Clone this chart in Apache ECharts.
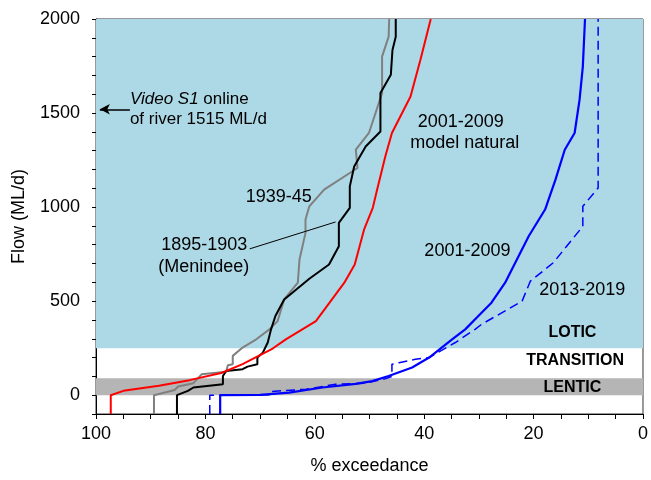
<!DOCTYPE html>
<html><head><meta charset="utf-8">
<script src="https://cdn.jsdelivr.net/npm/echarts@6/dist/echarts.min.js"></script>
<style>html,body{margin:0;padding:0;background:#fff}#c{width:651px;height:480px}</style>
</head><body><div id="c"></div>
<script>
// tick labels
const xTickLabels = [100, 80, 60, 40, 20, 0];
const yTickLabels = [0, 500, 1000, 1500, 2000];
// flow regime bands (ML/d)
const lenticBand = [0, 90];
const loticBand = [250, 2000];
// flow duration curves: [% exceedance, flow ML/d]
const natural2001 = [[97.3,-100],[97.3,0],[95.0,23],[88.5,50],[82.9,80],[77.1,118],[73.2,165],[67.7,248],[65.3,297],[59.8,394],[54.6,598],[52.7,695],[51.0,880],[49.4,996],[48.6,1093],[47.1,1270],[45.9,1394],[42.5,1588],[40.7,1782],[38.8,2000]];
const menindee1895 = [[85.2,-100],[85.2,0],[83.2,23],[82.2,41],[76.8,58],[76.8,102],[76.2,129],[73.2,138],[72.3,152],[70.5,164],[70.5,200],[69.5,226],[68.6,280],[68.0,350],[67.2,421],[65.6,509],[61.0,619],[57.4,695],[55.6,792],[55.6,916],[53.6,996],[53.6,1110],[52.8,1216],[50.7,1322],[48.0,1402],[48.0,1606],[46.1,1703],[45.8,1835],[45.2,1906],[45.2,2000]];
const period1939 = [[89.4,-100],[89.4,0],[85.6,28],[85.0,46],[82.2,64],[80.7,111],[76.2,124],[75.9,159],[75.0,164],[75.0,209],[73.2,253],[70.7,297],[68.3,350],[66.8,394],[65.6,509],[63.1,598],[62.8,721],[61.7,863],[61.7,934],[61.0,1004],[58.3,1093],[58.0,1102],[52.2,1208],[52.5,1305],[50.1,1394],[47.7,1606],[47.7,1800],[46.5,1906],[46.4,2000]];
const actual2001 = [[77.3,-100],[77.3,0],[70.0,2],[64.7,14],[58.6,41],[52.5,60],[49.5,75],[46.5,102],[42.2,147],[39.1,200],[34.9,297],[32.5,350],[30.1,421],[27.7,492],[25.2,598],[20.9,845],[17.9,987],[16.0,1146],[14.3,1305],[12.5,1394],[11.6,1570],[11.0,1747],[10.6,2000]];
const actual2013 = [[79.2,-100],[79.2,0],[68.0,2],[67.9,20],[61.6,32],[56.2,58],[50.7,64],[47.0,88],[45.9,100],[45.9,164],[44.6,173],[41.6,191],[39.1,200],[34.3,280],[30.7,350],[29.5,377],[22.1,500],[20.6,606],[16.4,704],[11.0,898],[11.0,1004],[8.2,1102],[8.2,2000]];
// annotation anchors [x, y] in data units
const videoArrow = [[93.8,1520],[99.3,1520]];
const leader1895 = [[71.9,778],[56.2,921]];
const FONT = 'Liberation Sans, Arial, sans-serif';
const texts = [
  {pos:[93.8,1571], text:'{i|Video S1} online', align:'left', size:17},
  {pos:[93.8,1466], text:'of river 1515 ML/d', align:'left', size:17},
  {pos:[33.3,1454], text:'2001-2009', align:'center', size:18},
  {pos:[32.6,1338], text:'model natural', align:'center', size:18},
  {pos:[66.6,1056], text:'1939-45', align:'center', size:18},
  {pos:[80.2,796], text:'1895-1903', align:'center', size:18},
  {pos:[80.3,684], text:'(Menindee)', align:'center', size:18},
  {pos:[32.1,769], text:'2001-2009', align:'center', size:18},
  {pos:[11.1,561], text:'2013-2019', align:'center', size:18},
  {pos:[12.9,333], text:'LOTIC', align:'center', size:16, bold:true},
  {pos:[12.4,184], text:'TRANSITION', align:'center', size:16, bold:true},
  {pos:[12.9,41], text:'LENTIC', align:'center', size:16, bold:true}
];

const chart = echarts.init(document.getElementById('c'), null, {renderer:'canvas'});
function line(data, color, width, type, z) {
  return {type:'line', data:data, showSymbol:false, symbol:'none', animation:false, silent:true, z:z||2,
    lineStyle:{color:color, width:width, type:type||'solid'}};
}
const option = {
  animation:false,
  grid:{left:96, right:6, top:19, bottom:65, show:true, borderColor:'#333', borderWidth:1},
  xAxis:{type:'value', inverse:true, min:0, max:100, interval:5,
    axisLine:{show:true, onZero:false, lineStyle:{color:'#000', width:1}},
    axisTick:{show:true, length:5, lineStyle:{color:'#000'}},
    axisLabel:{formatter:v => xTickLabels.includes(v) ? String(v) : '', fontSize:18, color:'#000', margin:11, fontFamily:FONT},
    splitLine:{show:false},
    name:'% exceedance', nameLocation:'middle', nameGap:43,
    nameTextStyle:{fontSize:18, color:'#000', fontFamily:FONT}},
  yAxis:{type:'value', min:-100, max:2000, interval:100,
    axisLine:{show:true, onZero:false, lineStyle:{color:'#000', width:1}},
    axisTick:{show:true, length:4, lineStyle:{color:'#000'}},
    axisLabel:{formatter:v => yTickLabels.includes(v) ? String(v) : '', fontSize:18, color:'#000', margin:16, fontFamily:FONT},
    splitLine:{show:false},
    name:'Flow (ML/d)', nameLocation:'middle', nameGap:68,
    nameTextStyle:{fontSize:18, color:'#000', fontFamily:FONT}},
  series:[
    {type:'line', data:[], silent:true, z:1,
      markArea:{silent:true, data:[
        [{yAxis:loticBand[0], itemStyle:{color:'#add8e6'}},{yAxis:loticBand[1]}],
        [{yAxis:lenticBand[0], itemStyle:{color:'#b5b5b5'}},{yAxis:lenticBand[1]}]
      ]},
      markLine:{silent:true, symbol:['none','none'], label:{show:false}, animation:false,
        data:[
          [{coord:leader1895[0], lineStyle:{color:'#000', width:1, type:'solid'}, symbol:'none'},{coord:leader1895[1], symbol:'none'}],
          [{coord:videoArrow[0], lineStyle:{color:'#000', width:1.5, type:'solid'}, symbol:'none'},{coord:videoArrow[1], symbol:'arrow', symbolSize:[8,10]}]
        ]}
    },
    line(period1939, '#808080', 2),
    line(menindee1895, '#000000', 2),
    line(natural2001, '#ff0000', 2),
    line(actual2013, '#0000ff', 1.5, [9,5]),
    line(actual2001, '#0000ff', 2.2)
  ]
};
chart.setOption(option);
const graphics = texts.map(t => {
  const p = chart.convertToPixel({gridIndex:0}, t.pos);
  return {type:'text', x:p[0], y:p[1], silent:true, z:10,
    style:{text:t.text, fill:'#000', fontSize:t.size, fontFamily:FONT, fontWeight:t.bold?'bold':'normal',
      align:t.align, verticalAlign:'middle',
      rich:{i:{fontStyle:'italic', fontSize:t.size, fontFamily:FONT, fill:'#000'}}}};
});
chart.setOption({graphic:graphics});
</script>
</body></html>
